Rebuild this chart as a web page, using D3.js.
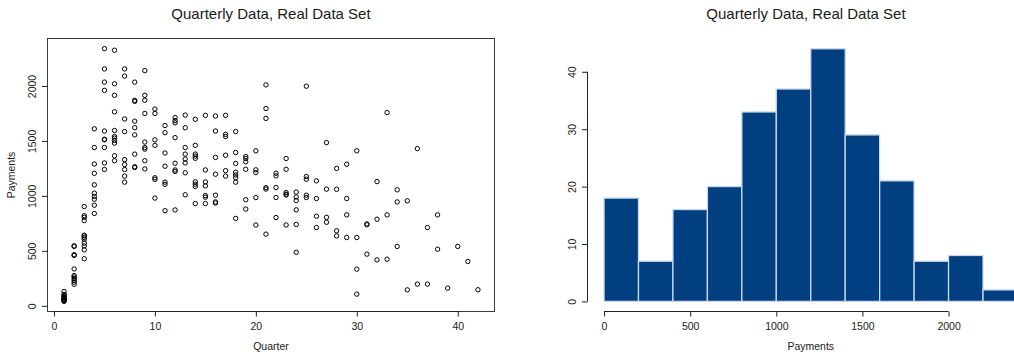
<!DOCTYPE html>
<html>
<head>
<meta charset="utf-8">
<script src="https://cdn.jsdelivr.net/npm/d3@7"></script>
<style>
  html, body { margin: 0; padding: 0; background: #ffffff; }
  svg { display: block; }
  text { font-family: "Liberation Sans", Arial, Helvetica, sans-serif; fill: #1a1a1a; }
</style>
</head>
<body>
<svg id="chart" width="1014" height="354"></svg>
<script>
// ---- data ---------------------------------------------------------------
const chartTitle = "Quarterly Data, Real Data Set";
const xLabelScatter = "Quarter";
const yLabelScatter = "Payments";
const xLabelHist = "Payments";

// payments observed in each development quarter: [quarter, [payments...]]
const paymentsByQuarter = [
  [1,  [130, 105, 95, 85, 75, 68, 60, 55, 50, 45, 40]],
  [2,  [545, 540, 465, 458, 335, 275, 262, 248, 232, 215, 196]],
  [3,  [903, 820, 805, 775, 642, 636, 621, 605, 570, 545, 509, 428]],
  [4,  [1610, 1440, 1290, 1205, 1100, 1025, 995, 970, 915, 840]],
  [5,  [2340, 2155, 2035, 1960, 1590, 1515, 1510, 1440, 1300, 1240]],
  [6,  [2325, 2020, 1915, 1765, 1595, 1540, 1525, 1505, 1480, 1365, 1320]],
  [7,  [2155, 2090, 1700, 1585, 1330, 1285, 1240, 1180, 1125]],
  [8,  [2035, 1870, 1860, 1680, 1620, 1555, 1380, 1265, 1258]],
  [9,  [2140, 1915, 1870, 1750, 1490, 1440, 1425, 1320, 1245]],
  [10, [1790, 1750, 1510, 1460, 1165, 1150, 980]],
  [11, [1640, 1575, 1390, 1270, 1125, 1105, 865]],
  [12, [1712, 1685, 1665, 1530, 1297, 1236, 1222, 872]],
  [13, [1735, 1620, 1440, 1380, 1335, 1300, 1210, 1010]],
  [14, [1697, 1460, 1380, 1362, 1342, 1128, 1106, 1085, 930]],
  [15, [1733, 1236, 1127, 1091, 1003, 988, 930]],
  [16, [1727, 1590, 1350, 1197, 1006, 945, 935]],
  [17, [1733, 1560, 1540, 1370, 1230, 1180]],
  [18, [1585, 1395, 1295, 1215, 1190, 1165, 1125, 795]],
  [19, [1358, 1340, 1310, 1242, 965, 880]],
  [20, [1410, 1237, 1212, 985, 735]],
  [21, [2010, 1795, 1705, 1075, 1062, 652]],
  [22, [1206, 1182, 1076, 985, 803]],
  [23, [1340, 1242, 1030, 1015, 1008, 735]],
  [24, [1035, 990, 958, 873, 740, 487]],
  [25, [1998, 1176, 1152, 1006, 985]],
  [26, [1137, 976, 815, 712]],
  [27, [1485, 1061, 805, 760]],
  [28, [1250, 1060, 682, 636]],
  [29, [1288, 976, 827, 621]],
  [30, [1410, 621, 333, 106]],
  [31, [745, 737, 470]],
  [32, [1130, 788, 418]],
  [33, [1758, 827, 424]],
  [34, [1055, 945, 540]],
  [35, [955, 145]],
  [36, [1430, 197]],
  [37, [712, 197]],
  [38, [827, 515]],
  [39, [161]],
  [40, [540]],
  [41, [403]],
  [42, [146]]
];

const scatterXTicks = [0, 10, 20, 30, 40];
const scatterYTicks = [0, 500, 1000, 1500, 2000];
const histBreaks = [0, 200, 400, 600, 800, 1000, 1200, 1400, 1600, 1800, 2000, 2200, 2400];
const histXTicks = [0, 500, 1000, 1500, 2000];
const histYTicks = [0, 10, 20, 30, 40];

// ---- helpers ------------------------------------------------------------
const points = paymentsByQuarter.flatMap(([q, vals]) => vals.map(v => ({ q, v })));
const payments = points.map(d => d.v);

// base-graphics style axis range: data extent widened by 4% on each side
function padded([lo, hi]) {
  const s = (hi - lo) * 0.04;
  return [lo - s, hi + s];
}

const svg = d3.select("#chart");
const tickFont = "10.5px";
const titleFont = "15px";

// ---- left panel: scatter of payments by quarter -------------------------
const L = { left: 47.5, right: 494.5, top: 38.5, bottom: 311.5 };
const xS = d3.scaleLinear().domain(padded(d3.extent(points, d => d.q))).range([L.left, L.right]);
const yS = d3.scaleLinear().domain(padded(d3.extent(points, d => d.v))).range([L.bottom, L.top]);

const gL = svg.append("g");

gL.append("rect")
  .attr("x", L.left).attr("y", L.top)
  .attr("width", L.right - L.left).attr("height", L.bottom - L.top)
  .attr("fill", "none").attr("stroke", "#3a3a3a").attr("stroke-width", 1);

gL.append("g").selectAll("circle")
  .data(points)
  .join("circle")
  .attr("cx", d => xS(d.q))
  .attr("cy", d => yS(d.v))
  .attr("r", 2.2)
  .attr("fill", "none")
  .attr("stroke", "#000")
  .attr("stroke-width", 1);

function styleBottomAxis(g) {
  g.select(".domain").remove();
  g.selectAll(".tick line").attr("stroke", "#222");
  g.selectAll(".tick text")
    .style("font-size", tickFont)
    .attr("fill", "#222");
}
function styleLeftAxis(g) {
  g.select(".domain").remove();
  g.selectAll(".tick line").attr("stroke", "#222");
  g.selectAll(".tick text")
    .style("font-size", tickFont)
    .attr("fill", "#222")
    .attr("x", null).attr("dy", null)
    .attr("text-anchor", "middle")
    .attr("transform", "translate(-11.5,0) rotate(-90)");
}

const xAxisL = gL.append("g")
  .attr("transform", `translate(0,${L.bottom})`)
  .call(d3.axisBottom(xS).tickValues(scatterXTicks).tickSize(5).tickPadding(6.5).tickFormat(d3.format("d")))
  .call(styleBottomAxis);
xAxisL.append("line")
  .attr("x1", xS(scatterXTicks[0])).attr("x2", xS(scatterXTicks[scatterXTicks.length - 1]))
  .attr("stroke", "#222");

const yAxisL = gL.append("g")
  .attr("transform", `translate(${L.left},0)`)
  .call(d3.axisLeft(yS).tickValues(scatterYTicks).tickSize(5.5).tickFormat(d3.format("d")))
  .call(styleLeftAxis);

gL.append("text")
  .attr("x", (L.left + L.right) / 2).attr("y", 18.5)
  .attr("text-anchor", "middle").style("font-size", titleFont)
  .text(chartTitle);

gL.append("text")
  .attr("x", (L.left + L.right) / 2).attr("y", 349.5)
  .attr("text-anchor", "middle").style("font-size", tickFont)
  .text(xLabelScatter);

gL.append("text")
  .attr("transform", `translate(14.5,${(L.top + L.bottom) / 2}) rotate(-90)`)
  .attr("text-anchor", "middle").style("font-size", tickFont)
  .text(yLabelScatter);

// ---- right panel: histogram of payments ---------------------------------
const bins = d3.bin()
  .domain([histBreaks[0], histBreaks[histBreaks.length - 1]])
  .thresholds(histBreaks.slice(1, -1))(payments);

const R = { left: 587.5, right: 1034, top: 38.7, bottom: 311.5 };
const xH = d3.scaleLinear().domain(padded([histBreaks[0], histBreaks[histBreaks.length - 1]])).range([R.left, R.right]);
const yH = d3.scaleLinear().domain(padded([0, d3.max(bins, b => b.length)])).range([R.bottom, R.top]);

const gR = svg.append("g");

gR.append("g").selectAll("rect")
  .data(bins)
  .join("rect")
  .attr("x", b => xH(b.x0))
  .attr("y", b => yH(b.length))
  .attr("width", b => xH(b.x1) - xH(b.x0))
  .attr("height", b => yH(0) - yH(b.length))
  .attr("fill", "#004080")
  .attr("stroke", "#cbd8ea")
  .attr("stroke-width", 1.3);

const xAxisR = gR.append("g")
  .attr("transform", `translate(0,${R.bottom})`)
  .call(d3.axisBottom(xH).tickValues(histXTicks).tickSize(5).tickPadding(6.5).tickFormat(d3.format("d")))
  .call(styleBottomAxis);
xAxisR.append("line")
  .attr("x1", xH(histXTicks[0])).attr("x2", xH(histXTicks[histXTicks.length - 1]))
  .attr("stroke", "#222");

const yAxisR = gR.append("g")
  .attr("transform", `translate(${R.left},0)`)
  .call(d3.axisLeft(yH).tickValues(histYTicks).tickSize(5.5).tickFormat(d3.format("d")))
  .call(styleLeftAxis);
yAxisR.append("line")
  .attr("y1", yH(histYTicks[0])).attr("y2", yH(histYTicks[histYTicks.length - 1]))
  .attr("stroke", "#222");

gR.append("text")
  .attr("x", 806).attr("y", 18.5)
  .attr("text-anchor", "middle").style("font-size", titleFont)
  .text(chartTitle);

gR.append("text")
  .attr("x", (R.left + R.right) / 2).attr("y", 349.5)
  .attr("text-anchor", "middle").style("font-size", tickFont)
  .text(xLabelHist);
</script>
</body>
</html>
